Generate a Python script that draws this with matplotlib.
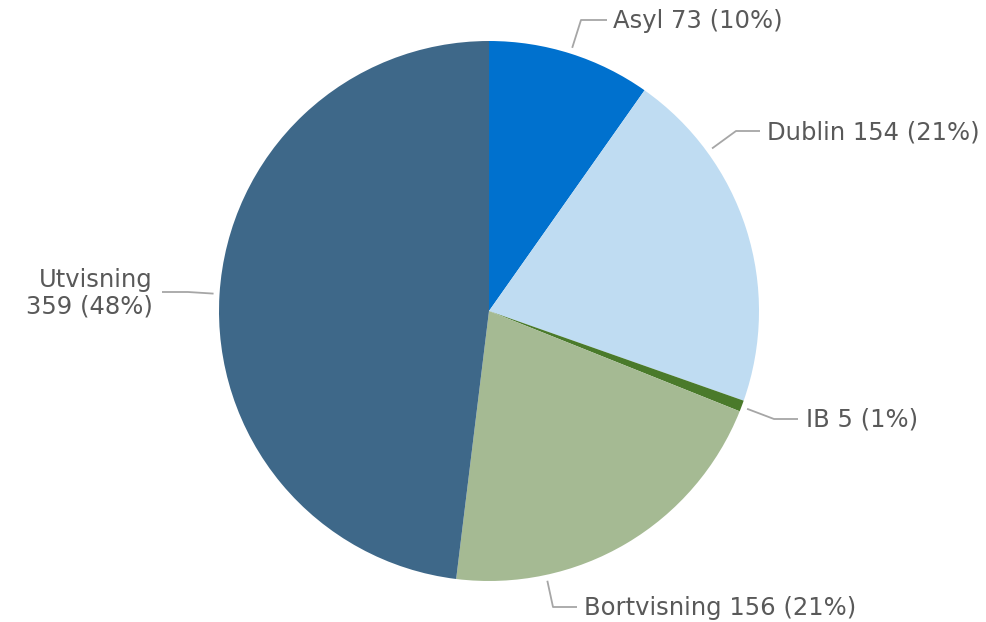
import matplotlib.pyplot as plt
import numpy as np

labels = ["Asyl", "Dublin", "IB", "Bortvisning", "Utvisning"]
values = [73, 154, 5, 156, 359]
colors = ["#0071CE", "#BFDCF2", "#4A7A2B", "#A5BA93", "#3E6889"]

# label layout in pixels from top-left: (elbow x, elbow y, end x, text x, ha)
label_pos = {
    "Asyl": (581, 20, 607, 613, "left"),
    "Dublin": (736, 131, 760, 767, "left"),
    "IB": (774, 419, 798, 806, "left"),
    "Bortvisning": (553, 607, 577, 584, "left"),
    "Utvisning": (188, 292, 162, 153, "right"),
}

W, H = 987, 622
cx, cy, r = 489, H - 311, 270

fig = plt.figure(figsize=(W / 100, H / 100), dpi=100)
ax = fig.add_axes([0, 0, 1, 1])

wedges, _ = ax.pie(values, colors=colors, startangle=90, counterclock=False,
                   center=(cx, cy), radius=r, frame=True,
                   wedgeprops=dict(linewidth=0))
ax.set_xlim(0, W)
ax.set_ylim(0, H)
ax.set_aspect("equal")
ax.axis("off")

total = sum(values)
for w, lab, v in zip(wedges, labels, values):
    ex, ey, endx, tx, ha = label_pos[lab]
    ey = H - ey
    # leader starts on the edge of the wedge, facing the elbow
    ang = np.degrees(np.arctan2(ey - cy, ex - cx))
    lo, hi = sorted([w.theta1, w.theta2])
    ang = lo + (ang - lo) % 360
    ang = np.deg2rad(min(ang, hi))
    sx = cx + (r + 6) * np.cos(ang)
    sy = cy + (r + 6) * np.sin(ang)
    ax.plot([sx, ex, endx], [sy, ey, ey], color="#A6A6A6", lw=1.3, solid_capstyle="butt")
    pct = round(100 * v / total)
    if lab == "Utvisning":
        txt = f"{lab}\n{v} ({pct}%)"
    else:
        txt = f"{lab} {v} ({pct}%)"
    ax.text(tx, ey - 1, txt, ha=ha, va="center", fontsize=17.5, color="#595959",
            family="DejaVu Sans", linespacing=1.15, multialignment="right")

fig.savefig("out.png", dpi=100)
